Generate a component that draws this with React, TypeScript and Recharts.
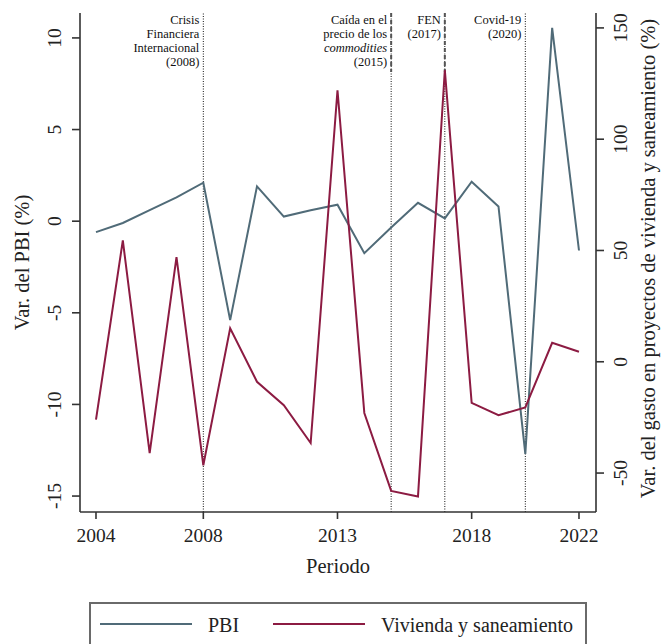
import React from 'react';
import {
  ComposedChart, Line, XAxis, YAxis, ReferenceLine, Legend, Label,
} from 'recharts';

const years = [2004, 2005, 2006, 2007, 2008, 2009, 2010, 2011, 2012, 2013, 2014, 2015, 2016, 2017, 2018, 2019, 2020, 2021, 2022];
const pbi = [-0.6, -0.1, 0.6, 1.3, 2.1, -5.4, 1.9, 0.25, 0.6, 0.9, -1.75, -0.35, 1.0, 0.15, 2.15, 0.8, -12.7, 10.55, -1.6];
const vivienda = [-26, 54.5, -41, 47, -46.5, 15, -9, -19.5, -36.5, 122, -23, -58, -60.5, 131, -18.5, -24, -20.5, 8.5, 4.5];

const xTicks = [2004, 2008, 2013, 2018, 2022];
const leftTicks = [-15, -10, -5, 0, 5, 10];
const rightTicks = [-50, 0, 50, 100, 150];

const eventYears = [2008, 2015, 2017, 2020];
const eventLabels = [
  ['Crisis', 'Financiera', 'Internacional', '(2008)'],
  ['Caída en el', 'precio de los', 'commodities', '(2015)'],
  ['FEN', '(2017)'],
  ['Covid-19', '(2020)'],
];
const italicWords = ['commodities'];
const dashedTopYears = [2015, 2017];

const data = years.map((y, i) => ({ year: y, pbi: pbi[i], vivienda: vivienda[i] }));

const SERIF = '"Liberation Serif", "Times New Roman", "DejaVu Serif", serif';
const PBI_COLOR = '#506b78';
const VIV_COLOR = '#8c1b42';
const AXIS_COLOR = '#333';

const LeftTick = (props: any) => {
  const { x, y, payload } = props;
  const tx = x - 9;
  return (
    <text x={tx} y={y} transform={`rotate(-90 ${tx} ${y})`} textAnchor="middle"
      fontSize={19.5} fontFamily={SERIF} fill="#222">{payload.value}</text>
  );
};

const RightTick = (props: any) => {
  const { x, y, payload } = props;
  const tx = x + 21;
  return (
    <text x={tx} y={y} transform={`rotate(-90 ${tx} ${y})`} textAnchor="middle"
      fontSize={19.5} fontFamily={SERIF} fill="#222">{payload.value}</text>
  );
};

const BottomTick = (props: any) => {
  const { x, y, payload } = props;
  return (
    <text x={x} y={y + 21} textAnchor="middle" fontSize={19.5} fontFamily={SERIF} fill="#222">
      {payload.value}
    </text>
  );
};

const makeAnnLabel = (lines: string[], dashed: boolean) => (props: any) => {
  const vb = props.viewBox || {};
  const x = vb.x;
  const y = vb.y;
  return (
    <g>
      {dashed && (
        <line x1={x} x2={x} y1={y} y2={y + 59} stroke="#555" strokeWidth={2} strokeDasharray="4 3" />
      )}
      <text textAnchor="end" fontSize={12.5} fontFamily={SERIF} fill="#111">
        {lines.map((l, i) => (
          <tspan key={i} x={x - 4} y={y + 11 + i * 14}
            fontStyle={italicWords.includes(l) ? 'italic' : 'normal'}>{l}</tspan>
        ))}
      </text>
    </g>
  );
};

const LegendContent = (props: any) => {
  const payload = (props.payload || []).filter((p: any) => p.dataKey === 'pbi' || p.dataKey === 'vivienda');
  const order = ['pbi', 'vivienda'];
  payload.sort((a: any, b: any) => order.indexOf(a.dataKey) - order.indexOf(b.dataKey));
  const starts = [11, 184];
  return (
    <svg width={498} height={60} style={{ display: 'block' }}>
      <rect x={1} y={1} width={496} height={62} fill="#fff" stroke="#6a6a6a" strokeWidth={2} />
      {payload.map((p: any, i: number) => (
        <g key={p.dataKey}>
          <line x1={starts[i]} x2={starts[i] + 92} y1={22} y2={22} stroke={p.color} strokeWidth={2} />
          <text x={starts[i] + 108} y={30} fontSize={20} fontFamily={SERIF} fill="#222">{p.value}</text>
        </g>
      ))}
    </svg>
  );
};

export default function App() {
  return (
    <div style={{ position: 'absolute', left: 0, top: 0, width: 662, height: 644, background: '#fff' }}>
      <ComposedChart width={662} height={644} data={data}
        margin={{ top: 13, right: 0, bottom: 62, left: 0 }}>
        <XAxis dataKey="year" type="number" domain={[2003.404, 2022.634]} allowDataOverflow
          ticks={xTicks} tick={<BottomTick />} height={70}
          axisLine={{ stroke: AXIS_COLOR, strokeWidth: 1.6 }}
          tickLine={{ stroke: AXIS_COLOR, strokeWidth: 1.6 }} tickSize={7}
          label={(p: any) => {
            const vb = p.viewBox || {};
            return (
              <text x={vb.x + vb.width / 2} y={vb.y + 61} textAnchor="middle" fontSize={20.5}
                fontFamily={SERIF} fill="#222">Periodo</text>
            );
          }}
        />
        <YAxis yAxisId="left" orientation="left" width={80} domain={[-15.87, 11.36]} allowDataOverflow
          ticks={leftTicks} tick={<LeftTick />} tickSize={8}
          axisLine={{ stroke: AXIS_COLOR, strokeWidth: 1.6 }}
          tickLine={{ stroke: AXIS_COLOR, strokeWidth: 1.6 }}
          label={(p: any) => {
            const vb = p.viewBox || {};
            const cy = vb.y + vb.height / 2;
            return (
              <text x={29} y={cy} transform={`rotate(-90 29 ${cy})`} textAnchor="middle" fontSize={20.5}
                fontFamily={SERIF} fill="#222">Var. del PBI (%)</text>
            );
          }}
        />
        <YAxis yAxisId="right" orientation="right" width={66} domain={[-67.5, 156.7]} allowDataOverflow
          ticks={rightTicks} tick={<RightTick />} tickSize={8}
          axisLine={{ stroke: AXIS_COLOR, strokeWidth: 1.6 }}
          tickLine={{ stroke: AXIS_COLOR, strokeWidth: 1.6 }}
          label={(p: any) => {
            const vb = p.viewBox || {};
            const cy = vb.y + vb.height / 2 - 4;
            const tx = vb.x + 59;
            return (
              <text x={tx} y={cy} transform={`rotate(-90 ${tx} ${cy})`} textAnchor="middle" fontSize={20.5}
                fontFamily={SERIF} fill="#222">Var. del gasto en proyectos de vivienda y saneamiento (%)</text>
            );
          }}
        />
        {eventYears.map((yr, i) => (
          <ReferenceLine key={yr} x={yr} yAxisId="left" stroke="#111" strokeWidth={1}
            strokeDasharray="1 1.5"
            label={makeAnnLabel(eventLabels[i], dashedTopYears.includes(yr))} />
        ))}
        <Line yAxisId="left" type="linear" dataKey="pbi" name="PBI" stroke={PBI_COLOR} strokeWidth={2}
          dot={false} activeDot={false} isAnimationActive={false} />
        <Line yAxisId="right" type="linear" dataKey="vivienda" name="Vivienda y saneamiento" stroke={VIV_COLOR}
          strokeWidth={2} dot={false} activeDot={false} isAnimationActive={false} />
        <Legend layout="vertical" align="center" verticalAlign="middle" content={<LegendContent />}
          wrapperStyle={{ position: 'absolute', left: 89, top: 602, width: 498, height: 60 }} />
      </ComposedChart>
    </div>
  );
}
